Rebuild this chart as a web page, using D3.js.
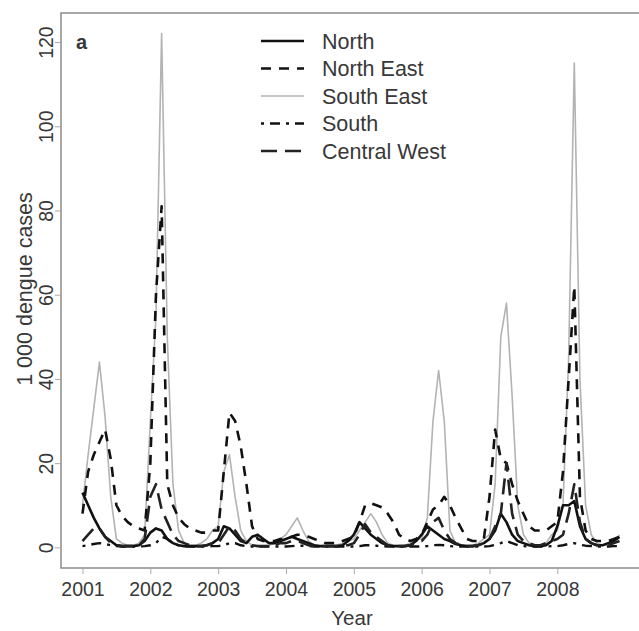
<!DOCTYPE html>
<html>
<head>
<meta charset="utf-8">
<script src="https://cdnjs.cloudflare.com/ajax/libs/d3/7.8.5/d3.min.js"></script>
<style>
body { margin: 0; background: #fff; }
text { font-family: "Liberation Sans", Arial, sans-serif; fill: #383838; }
</style>
</head>
<body>
<script>
var width = 639;
var height = 631;

// monthly values, Jan 2001 .. Dec 2008, in thousands of cases
var tickYears = [2001, 2002, 2003, 2004, 2005, 2006, 2007, 2008];
var yTicks = [0, 20, 40, 60, 80, 100, 120];
var regions = ["North", "North East", "South East", "South", "Central West"];

var north = [
  13, 10, 7, 4.5, 2.5, 1.5, 0.5, 0.3, 0.3, 0.3, 0.5, 1.5,
  3.5, 4.5, 4, 2, 1, 0.5, 0.3, 0.3, 0.3, 0.3, 0.5, 1,
  2, 5, 4.5, 3, 1.5, 1, 2.5, 3, 2, 1, 1, 1.5,
  2, 2.5, 2, 1.5, 1, 0.5, 0.3, 0.3, 0.3, 0.3, 0.5, 1.5,
  3, 6, 4.5, 3, 2, 1, 0.5, 0.3, 0.3, 0.3, 0.5, 1.5,
  3, 5, 4, 3, 2, 1.5, 0.8, 0.5, 0.3, 0.3, 0.5, 1,
  2, 4, 8, 6, 3, 1.5, 1, 0.5, 0.3, 0.3, 0.5, 1.5,
  5, 10, 10, 11, 5, 2, 1, 0.5, 0.5, 1, 1.5, 2.5
];
var northEast = [
  8, 18, 22, 25, 28, 21, 10, 7.5, 6, 5, 4.5, 4,
  20, 60, 81, 15, 10, 7, 5.5, 4.5, 4, 3.5, 3.5, 4,
  4, 18, 32, 30, 24, 15, 5, 2, 1.5, 1.5, 1.5, 2,
  2, 2.5, 3, 3, 2.5, 2, 1.5, 1, 1, 1, 1.5, 2,
  2.5, 6, 10, 10.5, 10, 9.5, 8, 6, 3, 2, 1.5, 2,
  3, 6, 9, 10, 12, 10, 7, 4.5, 2, 1.5, 1.5, 2,
  12, 28, 21, 20, 15, 11, 8, 5, 4, 4, 4, 5,
  6, 18, 40, 62, 12, 4, 2, 1.5, 1.5, 1.5, 2, 2.5
];
var southEast = [
  10, 22, 33, 44, 31, 12, 2, 1, 0.5, 0.5, 1, 3,
  30, 55, 122, 50, 15, 4, 1, 0.5, 0.5, 1, 2, 4,
  5, 18, 22, 12, 4, 1.5, 0.5, 0.3, 0.3, 0.5, 1, 2,
  3, 5, 7, 4, 1.5, 0.5, 0.3, 0.3, 0.3, 0.5, 1, 1.5,
  2, 4, 6, 8, 6, 3, 1, 0.5, 0.3, 0.5, 1, 2,
  2, 7, 30, 42, 30, 4, 1, 0.5, 0.3, 0.5, 1, 2,
  3, 15, 50, 58, 36, 10, 3, 1, 0.5, 0.5, 1, 3,
  4, 10, 45, 115, 40, 10, 3, 1, 0.5, 0.5, 1.5, 3
];
var south = [
  0.3, 0.5, 0.8, 1, 0.8, 0.5, 0.3, 0.2, 0.2, 0.2, 0.2, 0.3,
  0.5, 1, 2.5, 2, 1, 0.5, 0.3, 0.2, 0.2, 0.2, 0.2, 0.3,
  0.3, 0.5, 1, 1, 0.5, 0.3, 0.2, 0.2, 0.2, 0.2, 0.2, 0.2,
  0.2, 0.3, 0.4, 0.4, 0.3, 0.2, 0.2, 0.2, 0.2, 0.2, 0.2, 0.2,
  0.2, 0.3, 0.5, 0.5, 0.4, 0.3, 0.2, 0.2, 0.2, 0.2, 0.2, 0.2,
  0.2, 0.3, 0.5, 0.6, 0.5, 0.3, 0.2, 0.2, 0.2, 0.2, 0.2, 0.2,
  0.3, 0.6, 1, 1.5, 1, 0.5, 0.3, 0.2, 0.2, 0.2, 0.2, 0.3,
  0.3, 0.5, 0.8, 1, 0.6, 0.4, 0.3, 0.2, 0.2, 0.2, 0.3, 0.3
];
var centralWest = [
  1.5, 3, 4.5, 4.5, 2.5, 1, 0.5, 0.3, 0.3, 0.3, 0.5, 2,
  12, 15, 9, 6, 3, 1.5, 1, 0.5, 0.3, 0.3, 0.5, 1,
  1, 3, 5, 4, 2, 1, 0.5, 0.3, 0.3, 0.3, 0.5, 1,
  1, 1.5, 1.5, 1, 0.5, 0.3, 0.3, 0.3, 0.3, 0.3, 0.5, 0.5,
  1, 3, 5.5, 3.5, 2.5, 1.5, 0.5, 0.3, 0.3, 0.3, 0.5, 1,
  1.5, 3, 6, 7, 4, 2, 1, 0.5, 0.3, 0.3, 0.5, 1,
  2, 5, 8, 20, 8, 3, 1.5, 1, 0.5, 0.5, 1, 1.5,
  2, 3, 8, 15, 6, 2, 1, 0.5, 0.5, 0.5, 1, 1.5
];

var series = [
  { name: regions[2], values: southEast, color: "#b3b3b3", width: 1.6, dash: null },
  { name: regions[0], values: north, color: "#111", width: 2.6, dash: null },
  { name: regions[1], values: northEast, color: "#111", width: 2.6, dash: "10,8" },
  { name: regions[3], values: south, color: "#111", width: 2.4, dash: "3,6,10,6" },
  { name: regions[4], values: centralWest, color: "#222", width: 2.6, dash: "16,8" }
];
var legendOrder = [1, 2, 0, 3, 4];

var lastTime = 2001 + (north.length - 1) / 12;
var pad = 0.04 * (lastTime - 2001);

var x = d3.scaleLinear()
    .domain([2001 - pad, lastTime + pad])
    .range([61, 641]);
var y = d3.scaleLinear()
    .domain([-4.9, 126.9])
    .range([568, 13]);

var svg = d3.select("body")
    .append("svg")
    .attr("width", width)
    .attr("height", height);

var line = d3.line()
    .x(function(d, i) { return x(2001 + i / 12); })
    .y(function(d) { return y(d); });

var plot = svg.append("g");

series.forEach(function(s) {
    plot.append("path")
        .datum(s.values)
        .attr("fill", "none")
        .attr("stroke", s.color)
        .attr("stroke-width", s.width)
        .attr("stroke-dasharray", s.dash)
        .attr("stroke-linejoin", "round")
        .attr("d", line);
});

// frame
svg.append("rect")
    .attr("x", 61)
    .attr("y", 13)
    .attr("width", 580)
    .attr("height", 555)
    .attr("fill", "none")
    .attr("stroke", "#8c8c8c")
    .attr("stroke-width", 1.5);

var xAxis = svg.append("g")
    .attr("transform", "translate(0,568)")
    .call(d3.axisBottom(x).tickValues(tickYears).tickSize(6).tickFormat(d3.format("d")));
xAxis.select(".domain").remove();
xAxis.selectAll("line").attr("stroke", "#aaa");
xAxis.selectAll("text")
    .attr("y", 14)
    .style("font-size", "19.5px")
    .style("font-family", "Liberation Sans, Arial, sans-serif")
    .attr("fill", "#383838");

var yAxis = svg.append("g")
    .attr("transform", "translate(61,0)")
    .call(d3.axisLeft(y).tickValues(yTicks).tickSize(6));
yAxis.select(".domain").remove();
yAxis.selectAll("line").attr("stroke", "#aaa");
yAxis.selectAll("text")
    .attr("x", null)
    .attr("dy", null)
    .attr("text-anchor", "middle")
    .attr("transform", "translate(-8,0) rotate(-90)")
    .style("font-size", "19.5px")
    .style("font-family", "Liberation Sans, Arial, sans-serif")
    .attr("fill", "#383838");

svg.append("text")
    .attr("x", 352)
    .attr("y", 625)
    .attr("text-anchor", "middle")
    .style("font-size", "20.5px")
    .text("Year");

svg.append("text")
    .attr("transform", "translate(32,289) rotate(-90)")
    .attr("text-anchor", "middle")
    .style("font-size", "21.5px")
    .text("1 000 dengue cases");

svg.append("text")
    .attr("x", 76)
    .attr("y", 49)
    .style("font-size", "20px")
    .style("font-weight", "bold")
    .text("a");

var legend = svg.append("g");
legendOrder.forEach(function(k, i) {
    var s = series[k];
    var ly = 41 + i * 27.5;
    legend.append("line")
        .attr("x1", 261).attr("x2", 304)
        .attr("y1", ly).attr("y2", ly)
        .attr("stroke", s.color)
        .attr("stroke-width", s.width)
        .attr("stroke-dasharray", s.dash);
    legend.append("text")
        .attr("x", 322)
        .attr("y", ly)
        .attr("dy", "0.35em")
        .style("font-size", "21.5px")
        .text(s.name);
});
</script>
</body>
</html>
